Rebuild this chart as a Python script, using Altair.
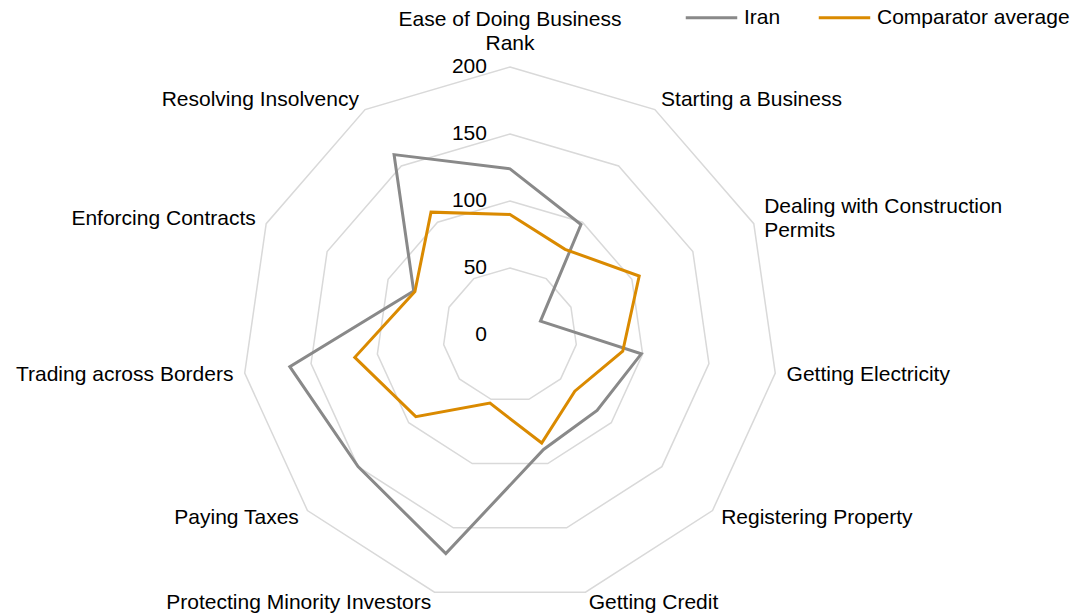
import altair as alt
import pandas as pd

categories = [
    "Ease of Doing Business Rank",
    "Starting a Business",
    "Dealing with Construction Permits",
    "Getting Electricity",
    "Registering Property",
    "Getting Credit",
    "Protecting Minority Investors",
    "Paying Taxes",
    "Trading across Borders",
    "Enforcing Contracts",
    "Resolving Insolvency",
]
label_lines = [
    ["Ease of Doing Business", "Rank"],
    ["Starting a Business"],
    ["Dealing with Construction", "Permits"],
    ["Getting Electricity"],
    ["Registering Property"],
    ["Getting Credit"],
    ["Protecting Minority Investors"],
    ["Paying Taxes"],
    ["Trading across Borders"],
    ["Enforcing Contracts"],
    ["Resolving Insolvency"],
]
iran = [124, 98, 25, 99, 86, 89, 170, 150, 166, 79, 160]
comparator = [90, 76, 106, 85, 64, 84, 53, 93, 117, 78, 109]
series_names = ["Iran", "Comparator average"]
series_colors = ["#898989", "#DA8A00"]
grid_levels = [50, 100, 150, 200]
tick_values = [0, 50, 100, 150, 200]

N = len(categories)
FONT = "Liberation Sans"

rows = []
for name, vals in zip(series_names, [iran, comparator]):
    for i, v in enumerate(vals):
        rows.append({"series": name, "idx": i, "value": v})
series_df = pd.DataFrame(rows)

grid_df = pd.DataFrame([{"level": lv, "idx": i, "value": lv} for lv in grid_levels for i in range(N)])
tick_df = pd.DataFrame({"value": tick_values, "idx": 0})
label_df = pd.DataFrame({"idx": list(range(N)), "label": label_lines, "value": 208.5})

ang = f"datum.idx * 2 * PI / {N}"
xs = alt.Scale(domain=[-374.6, 417.9], nice=False, zero=False)
ys = alt.Scale(domain=[-207.46, 244.03], nice=False, zero=False)


def polar(ch, line_shift=0.0):
    return ch.transform_calculate(
        px=f"datum.value * sin({ang})",
        py=f"datum.value * cos({ang}) + {line_shift} * (isArray(datum.label) ? length(datum.label) - 1 : 0)",
    )


grid = polar(alt.Chart(grid_df)).mark_line(
    interpolate="linear-closed", color="#D9D9D9", strokeWidth=1.5
).encode(
    x=alt.X("px:Q", scale=xs, axis=None),
    y=alt.Y("py:Q", scale=ys, axis=None),
    detail="level:N",
    order="idx:Q",
)

lines = polar(alt.Chart(series_df)).mark_line(
    interpolate="linear-closed", strokeWidth=3
).encode(
    x=alt.X("px:Q", scale=xs, axis=None),
    y=alt.Y("py:Q", scale=ys, axis=None),
    color=alt.Color(
        "series:N",
        scale=alt.Scale(domain=series_names, range=series_colors),
        legend=alt.Legend(
            title=None,
            orient="none",
            direction="horizontal",
            legendX=676,
            legendY=-18,
            symbolType="stroke",
            symbolSize=2650,
            symbolStrokeWidth=3,
            labelFont=FONT,
            labelFontSize=21,
            labelColor="#000000",
            labelOffset=5,
            columnPadding=31,
            padding=0,
            labelLimit=400,
        ),
    ),
    order="idx:Q",
)

ticks = polar(alt.Chart(tick_df)).mark_text(
    align="right", baseline="middle", dx=-23, font=FONT, fontSize=21, color="#000000"
).encode(
    x=alt.X("px:Q", scale=xs, axis=None),
    y=alt.Y("py:Q", scale=ys, axis=None),
    text=alt.Text("value:Q"),
)


def label_layer(filt, align, baseline, dy=0, line_shift=0.0):
    return polar(alt.Chart(label_df).transform_filter(filt), line_shift).mark_text(
        align=align, baseline=baseline, font=FONT, fontSize=21, color="#000000",
        lineHeight=24, dy=dy
    ).encode(
        x=alt.X("px:Q", scale=xs, axis=None),
        y=alt.Y("py:Q", scale=ys, axis=None),
        text="label",
    )


lab_top = label_layer("datum.idx == 0", "center", "middle", dy=-36)
lab_right = label_layer("datum.idx >= 1 && datum.idx <= 5", "left", "middle", line_shift=8.96)
lab_left = label_layer("datum.idx >= 6", "right", "middle", line_shift=8.96)

chart = alt.layer(grid, lines, ticks, lab_top, lab_right, lab_left).properties(
    width=1062, height=605, autosize=alt.AutoSizeParams(type="none"), padding=0
).configure_view(stroke=None)

chart.save("out.html", embed_options={"renderer": "svg", "actions": False})
